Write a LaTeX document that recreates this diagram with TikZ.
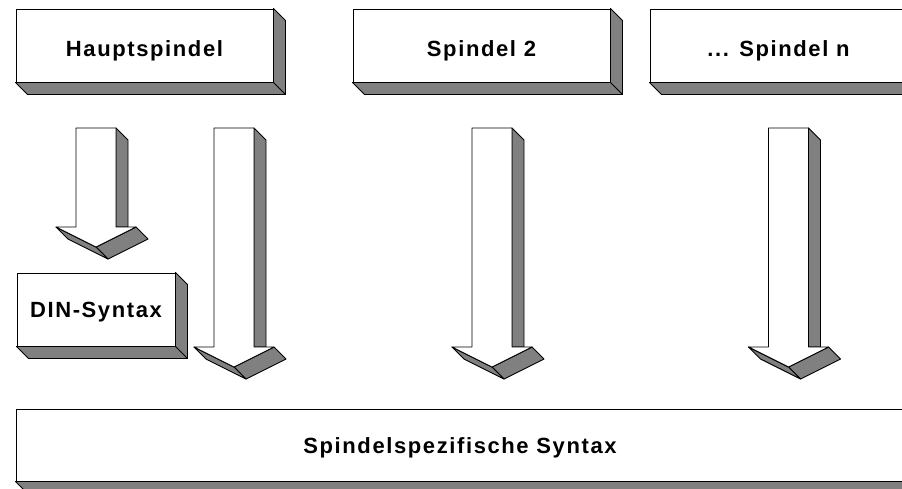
\documentclass[tikz,border=0pt]{standalone}
\usepackage{fontspec}
\setmainfont{Liberation Sans}[LetterSpace=7.3]
\usetikzlibrary{calc}
\definecolor{slabgray}{RGB}{128,128,128}

\begin{document}
\begin{tikzpicture}[
  x=1pt, y=-1pt,
  line width=0.9pt,
  line join=round,
  font=\bfseries\fontsize{22}{26}\selectfont,
  box/.style={
    draw,
    fill=white,
    minimum width=257pt,
    minimum height=73pt,
    text height=16pt,
    text depth=0pt,
    inner sep=0pt,
  },
  topbox/.style={box, text height=21pt},
  slab/.style={fill=slabgray, draw=black},
]
  \useasboundingbox (0,0) rectangle (902,488);
  \clip (0,0) rectangle (902,488);
  % Spindles in the top row
  \node[topbox] (haupt) at (144.5,45.5) {Hauptspindel};
  \node[topbox] (spz)   at (481.5,45.5) {Spindel 2};
  \node[topbox] (spn)   at (778.5,45.5) {... Spindel n};
  % DIN box under the main spindle, common syntax along the bottom
  \node[box, minimum width=158pt] (din) at (96,309.5) {DIN-Syntax};
  \node[box, minimum width=888pt, minimum height=72pt] (syntax) at (460,445)
    {Spindelspezifische Syntax};
  % extruded bottom and right faces of every box
  \foreach \n in {haupt,spz,spn,din,syntax} {
    \filldraw[slab] (\n.south west) -- ++(12,12) -- ($(\n.south east)+(12,12)$)
      -- ($(\n.north east)+(12,12)$) -- (\n.north east) -- (\n.south east) -- cycle;
    \draw (\n.south east) -- ++(12,12);
  }
  % 3D block arrows: shaft centre / tip
  \foreach \cx/\tip in {96/247, 234/367, 492/367, 788.5/367} {
    \filldraw[slab] ({\cx+20},128) -- ({\cx+32},140) -- ({\cx+32},{\tip-20})
      -- ({\cx+20},{\tip-20}) -- cycle;
    \filldraw[slab] ({\cx+40},{\tip-20}) -- ({\cx+52},{\tip-8})
      -- ({\cx+12},{\tip+12}) -- (\cx,\tip) -- cycle;
    \filldraw[slab] ({\cx-40},{\tip-20}) -- (\cx,\tip) -- ({\cx+12},{\tip+12})
      -- ({\cx-28},{\tip-8}) -- cycle;
    \filldraw[fill=white] ({\cx-20},128) -- ({\cx+20},128) -- ({\cx+20},{\tip-20})
      -- ({\cx+40},{\tip-20}) -- (\cx,\tip) -- ({\cx-40},{\tip-20})
      -- ({\cx-20},{\tip-20}) -- cycle;
  }
\end{tikzpicture}
\end{document}
